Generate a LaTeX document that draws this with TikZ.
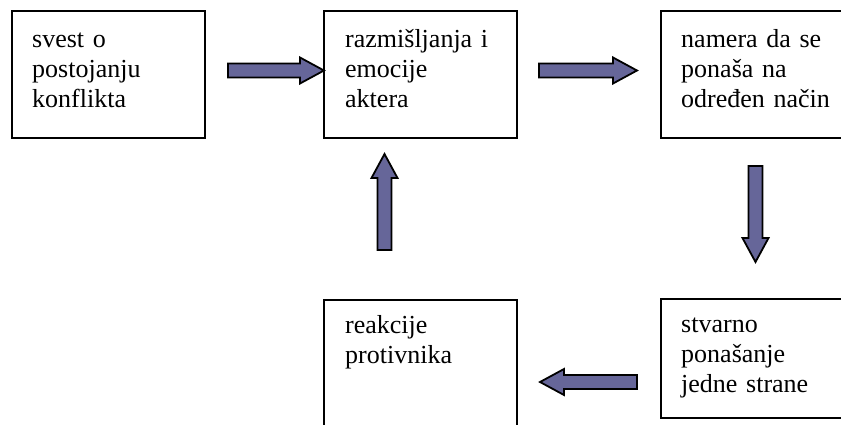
\documentclass[tikz,border=0pt]{standalone}
\usepackage{fontspec}
\setmainfont{Liberation Serif}
\usetikzlibrary{calc}

\definecolor{arrowfill}{RGB}{102,102,153}

\begin{document}
\begin{tikzpicture}[
  x=1pt, y=-1pt,
  box/.style={draw=black, line width=2pt, minimum width=193pt,
    minimum height=127pt, anchor=north west, inner sep=0pt},
  boxtext/.style={anchor=base west, inner sep=0pt, text width=170pt,
    align=left, font=\fontsize{26}{30}\selectfont},
  % block arrow from start (middle of tail) to target (tip)
  blockarrow/.style={draw=black, line width=1.8pt, fill=arrowfill,
    line join=miter,
    to path={
      ($(\tikztostart)!7pt!90:(\tikztotarget)$)
      -- ($(\tikztotarget)!24pt!(\tikztostart)!7pt!-90:(\tikztostart)$)
      -- ($(\tikztotarget)!24pt!(\tikztostart)!13pt!-90:(\tikztostart)$)
      -- (\tikztotarget)
      -- ($(\tikztotarget)!24pt!(\tikztostart)!13pt!90:(\tikztostart)$)
      -- ($(\tikztotarget)!24pt!(\tikztostart)!7pt!90:(\tikztostart)$)
      -- ($(\tikztostart)!7pt!-90:(\tikztotarget)$)
      -- cycle}},
]
\useasboundingbox (0,0) rectangle (841,424);
\clip (0,0) rectangle (841,424);

% boxes
\node[box] (b1) at (11,10) {};
\node[box] (b2) at (323,10) {};
\node[box] (b3) at (660,10) {};
\node[box, minimum height=140pt] (b4) at (323,299) {};
\node[box, minimum height=119pt] (b5) at (660,298) {};

% texts
\node[boxtext] (t1) at ([shift={(21,37)}]b1.north west) {svest o\\postojanju\\konflikta};
\node[boxtext] (t2) at ([shift={(22,37)}]b2.north west) {razmišljanja i\\emocije\\aktera};
\node[boxtext] (t3) at ([shift={(21,37)}]b3.north west) {namera da se\\ponaša na\\određen način};
\node[boxtext] (t4) at ([shift={(22,34)}]b4.north west) {reakcije\\protivnika};
\node[boxtext] (t5) at ([shift={(21,34)}]b5.north west) {stvarno\\ponašanje\\jedne strane};

% arrow end points
\coordinate (a1s) at (228,70.5);
\coordinate (a1e) at (324,70.5);
\coordinate (a2s) at (539,70.5);
\coordinate (a2e) at (637,70.5);
\coordinate (a3s) at (755.5,166);
\coordinate (a3e) at (755.5,262);
\coordinate (a4s) at (637,382);
\coordinate (a4e) at (540,382);
\coordinate (a5s) at (384.5,250);
\coordinate (a5e) at (384.5,154);

% arrows
\path[blockarrow] (a1s) to (a1e);
\path[blockarrow] (a2s) to (a2e);
\path[blockarrow] (a3s) to (a3e);
\path[blockarrow] (a4s) to (a4e);
\path[blockarrow] (a5s) to (a5e);
\end{tikzpicture}
\end{document}
